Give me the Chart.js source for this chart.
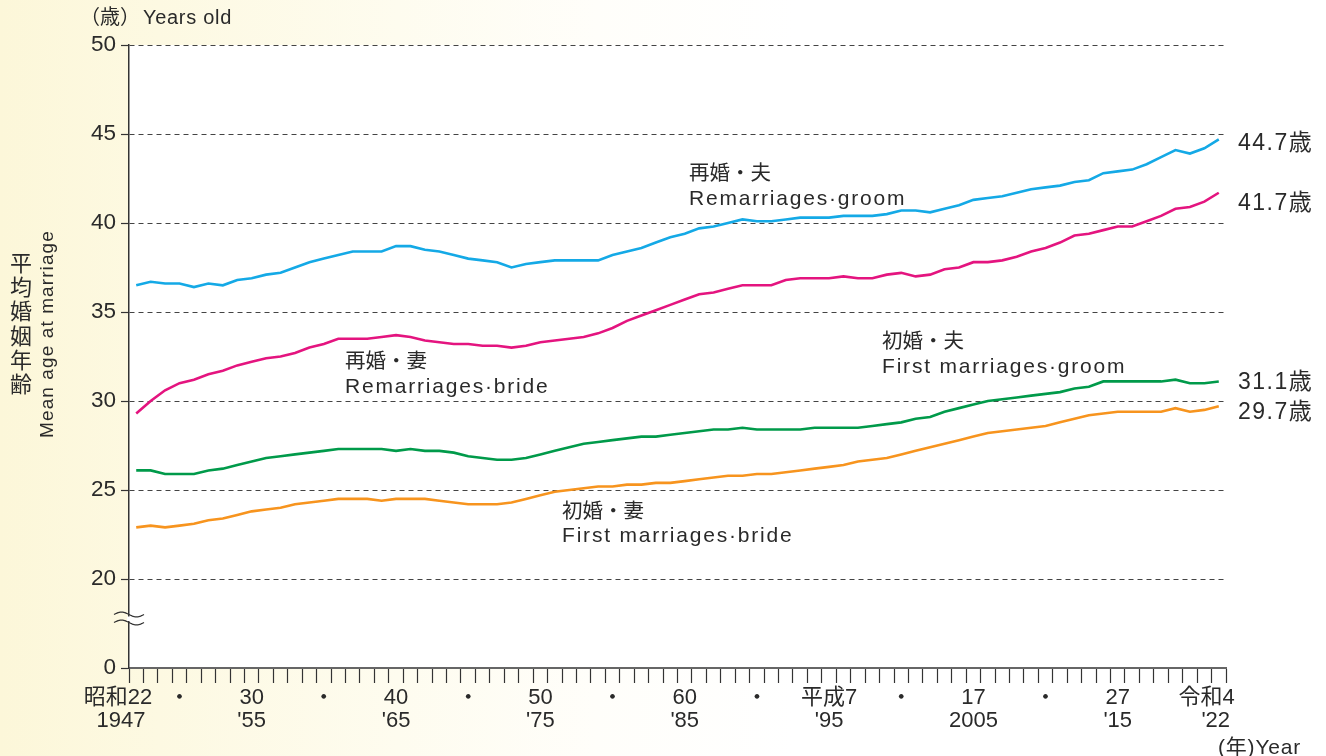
<!DOCTYPE html>
<html><head><meta charset="utf-8">
<script src="https://cdn.jsdelivr.net/npm/chart.js@4/dist/chart.umd.min.js"></script>
<style>
html,body{margin:0;padding:0;}
body{width:1326px;height:756px;overflow:hidden;background:linear-gradient(to right,#fcf7d9 0%,#fdf9e2 12%,#fefcef 30%,#fffefa 45%,#ffffff 60%);}
canvas{display:block;}
</style></head><body>
<canvas id="c" width="1326" height="756"></canvas>
<script>
const years = [1947,1948,1949,1950,1951,1952,1953,1954,1955,1956,1957,1958,1959,1960,1961,1962,1963,1964,1965,1966,1967,1968,1969,1970,1971,1972,1973,1974,1975,1976,1977,1978,1979,1980,1981,1982,1983,1984,1985,1986,1987,1988,1989,1990,1991,1992,1993,1994,1995,1996,1997,1998,1999,2000,2001,2002,2003,2004,2005,2006,2007,2008,2009,2010,2011,2012,2013,2014,2015,2016,2017,2018,2019,2020,2021,2022];

const remarriageGroom = [36.5,36.7,36.6,36.6,36.4,36.6,36.5,36.8,36.9,37.1,37.2,37.5,37.8,38.0,38.2,38.4,38.4,38.4,38.7,38.7,38.5,38.4,38.2,38.0,37.9,37.8,37.5,37.7,37.8,37.9,37.9,
  37.9,37.9,38.2,38.4,38.6,38.9,39.2,39.4,39.7,39.8,40.0,40.2,40.1,40.1,40.2,40.3,40.3,40.3,40.4,40.4,40.4,40.5,40.7,40.7,40.6,40.8,41.0,41.3,41.4,41.5,
  41.7,41.9,42.0,42.1,42.3,42.4,42.8,42.9,43.0,43.3,43.7,44.1,43.9,44.2,44.7];
const remarriageBride = [29.3,30.0,30.6,31.0,31.2,31.5,31.7,32.0,32.2,32.4,32.5,32.7,33.0,33.2,33.5,33.5,33.5,33.6,33.7,33.6,33.4,33.3,33.2,33.2,33.1,33.1,33.0,33.1,33.3,33.4,33.5,
  33.6,33.8,34.1,34.5,34.8,35.1,35.4,35.7,36.0,36.1,36.3,36.5,36.5,36.5,36.8,36.9,36.9,36.9,37.0,36.9,36.9,37.1,37.2,37.0,37.1,37.4,37.5,37.8,37.8,37.9,
  38.1,38.4,38.6,38.9,39.3,39.4,39.6,39.8,39.8,40.1,40.4,40.8,40.9,41.2,41.7];
const firstGroom = [26.1,26.1,25.9,25.9,25.9,26.1,26.2,26.4,26.6,26.8,26.9,27.0,27.1,27.2,27.3,27.3,27.3,27.3,27.2,27.3,27.2,27.2,27.1,26.9,26.8,26.7,26.7,26.8,27.0,27.2,27.4,
  27.6,27.7,27.8,27.9,28.0,28.0,28.1,28.2,28.3,28.4,28.4,28.5,28.4,28.4,28.4,28.4,28.5,28.5,28.5,28.5,28.6,28.7,28.8,29.0,29.1,29.4,29.6,29.8,30.0,30.1,
  30.2,30.3,30.4,30.5,30.7,30.8,31.1,31.1,31.1,31.1,31.1,31.2,31.0,31.0,31.1];
const firstBride = [22.9,23.0,22.9,23.0,23.1,23.3,23.4,23.6,23.8,23.9,24.0,24.2,24.3,24.4,24.5,24.5,24.5,24.4,24.5,24.5,24.5,24.4,24.3,24.2,24.2,24.2,24.3,24.5,24.7,24.9,25.0,
  25.1,25.2,25.2,25.3,25.3,25.4,25.4,25.5,25.6,25.7,25.8,25.8,25.9,25.9,26.0,26.1,26.2,26.3,26.4,26.6,26.7,26.8,27.0,27.2,27.4,27.6,27.8,28.0,28.2,28.3,
  28.4,28.5,28.6,28.8,29.0,29.2,29.3,29.4,29.4,29.4,29.4,29.6,29.4,29.5,29.7];

const tickYears  = [1947, 1950, 1955, 1960, 1965, 1970, 1975, 1980, 1985, 1990, 1995, 2000, 2005, 2010, 2015, 2022];
const tickTop    = ['昭和22      ', '・', '30', '・', '40', '・', '50', '・', '60', '・', '平成7', '・', '17', '・', '27', '令和4    '];
const tickBottom = ['1947     ', '', "'55", '', "'65", '', "'75", '', "'85", '', "'95", '', '2005', '', "'15", "'22 "];

const yTicks = [15, 20, 25, 30, 35, 40, 45, 50];
const yTickText = ['0', '20', '25', '30', '35', '40', '45', '50'];

const seriesNames = ['再婚・夫', '再婚・妻', '初婚・夫', '初婚・妻'];
const seriesNamesEn = ['Remarriages·groom', 'Remarriages·bride', 'First marriages·groom', 'First marriages·bride'];
const endValues = ['44.7歳', '41.7歳', '31.1歳', '29.7歳'];

const COLORS = ['#14a9e6', '#e4147f', '#009a4a', '#f7941e'];
const FONT = '"Liberation Sans", "Noto Sans CJK JP", sans-serif';
const TEXT = '#2a2a2a';

const bgPlugin = {
  id: 'bg',
  beforeDraw(chart) {
    const {ctx, chartArea: a} = chart;
    ctx.save();
    ctx.fillStyle = '#ffffff';
    ctx.fillRect(a.left, a.top, a.right - a.left, a.bottom - a.top);
    ctx.restore();
  }
};

function txt(ctx, s, x, y, size, spacing, align, baseline) {
  ctx.font = size + 'px ' + FONT;
  ctx.letterSpacing = (spacing || 0) + 'px';
  ctx.textAlign = align || 'left';
  ctx.textBaseline = baseline || 'alphabetic';
  ctx.fillText(s, x, y);
}

const annotPlugin = {
  id: 'annot',
  afterDraw(chart) {
    const {ctx, chartArea: a} = chart;
    ctx.save();
    ctx.fillStyle = TEXT;
    // unit labels
    txt(ctx, '（歳）', 80, 24, 20, 0);
    txt(ctx, 'Years old', 143, 24, 20, 0.7);
    txt(ctx, '(年)Year', 1218, 754, 21, 0.8);
    // vertical y title
    const jp = '平均婚姻年齢';
    for (let i = 0; i < jp.length; i++) {
      txt(ctx, jp[i], 21, 265 + i * 24.2, 22, 0, 'center', 'middle');
    }
    ctx.save();
    ctx.translate(52.5, 334);
    ctx.rotate(-Math.PI / 2);
    txt(ctx, 'Mean age at marriage', 0, 0, 19, 1.1, 'center', 'alphabetic');
    ctx.restore();
    // series labels
    const lab = [[689, 174, 205], [345, 362, 393], [882, 342, 373], [562, 512, 542]];
    for (let k = 0; k < 4; k++) {
      txt(ctx, seriesNames[k], lab[k][0], lab[k][1], 20.5, 0, 'left', 'middle');
      txt(ctx, seriesNamesEn[k], lab[k][0], lab[k][2], 21, 1.8, 'left', 'alphabetic');
    }
    // end value labels
    const endY = [150, 210, 389, 419];
    for (let k = 0; k < 4; k++) {
      txt(ctx, endValues[k], 1238, endY[k], 23, 1.5, 'left', 'alphabetic');
    }
    // axis break
    ctx.fillStyle = '#ffffff';
    ctx.fillRect(a.left - 2, 616.5, 5, 4.5);
    ctx.strokeStyle = '#333';
    ctx.lineWidth = 1.3;
    [614.5, 622.5].forEach(y0 => {
      ctx.beginPath();
      for (let x = 114; x <= 144; x += 0.5) {
        const y = y0 - 2.4 * Math.sin((x - 114) / 30 * 2 * Math.PI);
        if (x === 114) ctx.moveTo(x, y); else ctx.lineTo(x, y);
      }
      ctx.stroke();
    });
    ctx.restore();
  }
};

new Chart(document.getElementById('c'), {
  type: 'line',
  data: {
    labels: years.map(String),
    datasets: [
      {data: remarriageGroom, borderColor: COLORS[0]},
      {data: remarriageBride, borderColor: COLORS[1]},
      {data: firstGroom, borderColor: COLORS[2]},
      {data: firstBride, borderColor: COLORS[3]}
    ]
  },
  options: {
    responsive: false,
    animation: false,
    devicePixelRatio: 1,
    layout: {padding: {left: 0, top: 45, right: 100, bottom: 0}},
    plugins: {legend: {display: false}, tooltip: {enabled: false}},
    elements: {point: {radius: 0}, line: {borderWidth: 2.6, tension: 0, fill: false}},
    scales: {
      x: {
        type: 'category',
        offset: true,
        grid: {offset: true, drawOnChartArea: false, drawTicks: true, tickLength: 15, tickColor: '#333', tickWidth: 1.2},
        border: {display: true, color: '#666', width: 2},
        ticks: {
          autoSkip: false, maxRotation: 0, minRotation: 0, padding: 3, color: TEXT,
          font: {family: FONT, size: 22, lineHeight: 1.05},
          callback: function (val, idx) {
            const k = tickYears.indexOf(years[idx]);
            return k < 0 ? '' : [tickTop[k], tickBottom[k]];
          }
        },
        afterFit: s => { s.height = 88; }
      },
      y: {
        min: 15, max: 50,
        afterBuildTicks: s => { s.ticks = yTicks.map(v => ({value: v})); },
        ticks: {
          padding: 5, color: TEXT, font: {family: FONT, size: 22.5},
          callback: (v) => { const k = yTicks.indexOf(v); return k < 0 ? '' : yTickText[k]; }
        },
        grid: {
          color: c => (c.tick && c.tick.value === 15) ? 'rgba(0,0,0,0)' : '#444',
          lineWidth: 1, tickLength: 8, tickColor: '#333', tickWidth: 1.2, tickBorderDash: []
        },
        border: {display: true, color: '#333', width: 1.5, dash: [5, 4]},
        afterFit: s => { s.width = 129; }
      }
    }
  },
  plugins: [bgPlugin, annotPlugin]
});
</script>
</body></html>
